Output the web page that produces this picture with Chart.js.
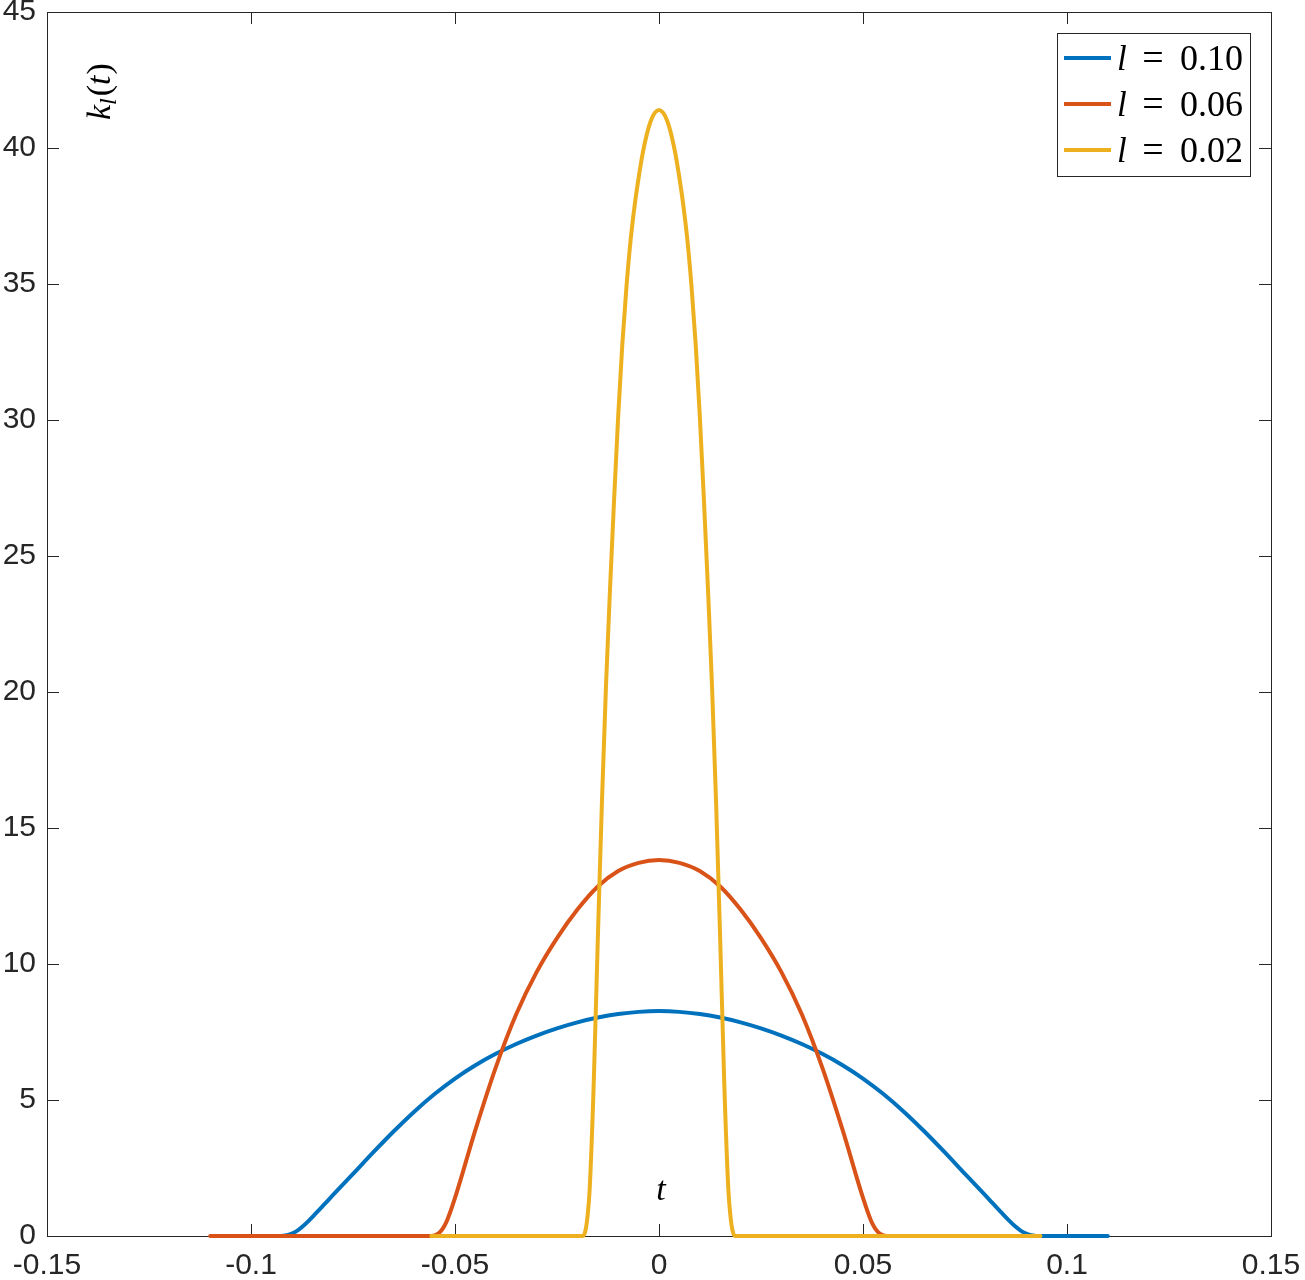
<!DOCTYPE html>
<html>
<head>
<meta charset="utf-8">
<script src="https://cdn.jsdelivr.net/npm/chart.js@4.4.1/dist/chart.umd.min.js"></script>
<style>
  body { margin: 0; background: #fff; }
  canvas { display: block; }
</style>
</head>
<body>
<canvas id="myChart" width="1305" height="1280"></canvas>
<script>
// values
const seriesNames = ['0.10', '0.06', '0.02'];
const seriesColors = ['#0072BD', '#D95319', '#EDB120'];

const tBlue = [-0.093, -0.092, -0.0905, -0.089, -0.0875, -0.086, -0.084, -0.082, -0.08, -0.075, -0.07, -0.065, -0.06, -0.055, -0.05, -0.045, -0.04, -0.035, -0.03, -0.025, -0.02, -0.015, -0.01, -0.005, 0,
  0.005, 0.01, 0.015, 0.02, 0.025, 0.03, 0.035, 0.04, 0.045, 0.05, 0.055, 0.06, 0.065, 0.07, 0.075, 0.08, 0.082, 0.084, 0.086, 0.0875, 0.089, 0.0905, 0.092, 0.093, 0.11];
const kBlue = [0, 0.01, 0.06, 0.16, 0.33, 0.54, 0.85, 1.17, 1.49, 2.28, 3.08, 3.85, 4.57, 5.22, 5.79, 6.28, 6.7, 7.06, 7.37, 7.635, 7.855, 8.03, 8.16, 8.24, 8.27,
  8.24, 8.16, 8.03, 7.855, 7.635, 7.37, 7.06, 6.7, 6.28, 5.79, 5.22, 4.57, 3.85, 3.08, 2.28, 1.49, 1.17, 0.85, 0.54, 0.33, 0.16, 0.06, 0.01, 0, 0];

const tOrange = [-0.11, -0.0558, -0.0548, -0.054, -0.053, -0.052, -0.05, -0.045, -0.04, -0.035, -0.03, -0.025, -0.02, -0.015, -0.01, -0.005, 0,
  0.005, 0.01, 0.015, 0.02, 0.025, 0.03, 0.035, 0.04, 0.045, 0.05, 0.052, 0.053, 0.054, 0.0548, 0.0558];
const kOrange = [0, 0, 0.03, 0.1, 0.27, 0.55, 1.4, 3.9, 6.2, 8.15, 9.7, 10.95, 12.0, 12.85, 13.42, 13.72, 13.82,
  13.72, 13.42, 12.85, 12.0, 10.95, 9.7, 8.15, 6.2, 3.9, 1.4, 0.55, 0.27, 0.1, 0.03, 0];

const tYellow = [-0.0558, -0.0186, -0.018, -0.0175, -0.017, -0.016, -0.015, -0.014, -0.013, -0.012, -0.011, -0.01, -0.009, -0.008, -0.007, -0.006, -0.005, -0.004, -0.003, -0.002, -0.001, 0,
  0.001, 0.002, 0.003, 0.004, 0.005, 0.006, 0.007, 0.008, 0.009, 0.01, 0.011, 0.012, 0.013, 0.014, 0.015, 0.016, 0.017, 0.0175, 0.018, 0.0186, 0.0935];
const kYellow = [0, 0, 0.22, 0.75, 1.7, 5.6, 10.9, 15.9, 20.2, 23.8, 27.1, 30.15, 32.75, 34.85, 36.55, 37.85, 38.9, 39.8, 40.5, 41.0, 41.3, 41.4,
  41.3, 41.0, 40.5, 39.8, 38.9, 37.85, 36.55, 34.85, 32.75, 30.15, 27.1, 23.8, 20.2, 15.9, 10.9, 5.6, 1.7, 0.75, 0.22, 0, 0];

const xTicks = [-0.15, -0.1, -0.05, 0, 0.05, 0.1, 0.15];
const xTickLabels = ['-0.15', '-0.1', '-0.05', '0', '0.05', '0.1', '0.15'];
const yTicks = [0, 5, 10, 15, 20, 25, 30, 35, 40, 45];
const yTickLabels = ['0', '5', '10', '15', '20', '25', '30', '35', '40', '45'];

const tickFont = { family: 'Liberation Sans, Arial, sans-serif', size: 30 };
const textColor = '#262626';
const mathFont = 'Liberation Serif, Times New Roman, serif';

function toPoints(ts, ks) {
  return ts.map((t, i) => ({ x: t, y: ks[i] }));
}

/* box, inner ticks, labels and legend */
const framePlugin = {
  id: 'frame',
  beforeDatasetsDraw(chart) {
    const { ctx, chartArea: a, scales } = chart;
    const tl = 12;
    ctx.save();
    ctx.strokeStyle = '#262626';
    ctx.lineWidth = 1;
    ctx.beginPath();
    xTicks.forEach((v) => {
      const px = Math.round(scales.x.getPixelForValue(v)) + 0.5;
      ctx.moveTo(px, a.bottom); ctx.lineTo(px, a.bottom - tl);
      ctx.moveTo(px, a.top); ctx.lineTo(px, a.top + tl);
    });
    yTicks.forEach((v) => {
      const py = Math.round(scales.y.getPixelForValue(v)) + 0.5;
      ctx.moveTo(a.left, py); ctx.lineTo(a.left + tl, py);
      ctx.moveTo(a.right, py); ctx.lineTo(a.right - tl, py);
    });
    ctx.stroke();
    ctx.strokeRect(Math.round(a.left) + 0.5, Math.round(a.top) + 0.5,
      Math.round(a.right - a.left), Math.round(a.bottom - a.top));
    ctx.restore();
  },
  afterDraw(chart) {
    const { ctx } = chart;
    ctx.save();
    ctx.fillStyle = '#000';
    ctx.textBaseline = 'alphabetic';

    // y label k_l(t), rotated
    ctx.save();
    ctx.translate(110, 120);
    ctx.rotate(-Math.PI / 2);
    ctx.textAlign = 'left';
    ctx.font = 'italic 34px ' + mathFont;
    ctx.fillText('k', 0, 0);
    let w = ctx.measureText('k').width;
    ctx.font = 'italic 24px ' + mathFont;
    ctx.fillText('l', w, 6);
    w += ctx.measureText('l').width + 2;
    ctx.font = '34px ' + mathFont;
    ctx.fillText('(', w, 0);
    w += ctx.measureText('(').width;
    ctx.font = 'italic 34px ' + mathFont;
    ctx.fillText('t', w, 0);
    w += ctx.measureText('t').width + 1;
    ctx.font = '34px ' + mathFont;
    ctx.fillText(')', w, 0);
    ctx.restore();

    // x label t
    ctx.font = 'italic 34px ' + mathFont;
    ctx.textAlign = 'center';
    ctx.fillText('t', 661, 1200);

    // legend
    const bx = 1057, by = 33, bw = 193, bh = 143;
    ctx.fillStyle = '#fff';
    ctx.fillRect(bx, by, bw, bh);
    ctx.strokeStyle = '#262626';
    ctx.lineWidth = 1;
    ctx.strokeRect(bx + 0.5, by + 0.5, bw, bh);
    seriesNames.forEach((name, i) => {
      const y = 58 + i * 46;
      ctx.strokeStyle = seriesColors[i];
      ctx.lineWidth = 4;
      ctx.beginPath();
      ctx.moveTo(1064, y);
      ctx.lineTo(1111, y);
      ctx.stroke();
      ctx.fillStyle = '#000';
      ctx.textAlign = 'left';
      ctx.font = 'italic 35px ' + mathFont;
      ctx.fillText('l', 1117, y + 12);
      ctx.font = '38px ' + mathFont;
      ctx.textAlign = 'center';
      ctx.fillText('=', 1153, y + 12);
      ctx.font = '36px ' + mathFont;
      ctx.textAlign = 'right';
      ctx.fillText(name, 1243, y + 12);
    });
    ctx.restore();
  }
};

const ctx = document.getElementById('myChart');

new Chart(ctx, {
  type: 'scatter',
  data: {
    datasets: [
      { label: 'l = ' + seriesNames[0], data: toPoints(tBlue, kBlue), borderColor: seriesColors[0], order: 3 },
      { label: 'l = ' + seriesNames[1], data: toPoints(tOrange, kOrange), borderColor: seriesColors[1], order: 2 },
      { label: 'l = ' + seriesNames[2], data: toPoints(tYellow, kYellow), borderColor: seriesColors[2], order: 1 }
    ].map((d) => Object.assign(d, {
      showLine: true,
      pointRadius: 0,
      borderWidth: 4,
      borderCapStyle: 'round',
      borderJoinStyle: 'round',
      cubicInterpolationMode: 'monotone',
      clip: false
    }))
  },
  options: {
    responsive: false,
    animation: false,
    layout: { padding: { top: 12, right: 34, left: 0, bottom: 0 } },
    plugins: {
      legend: { display: false },
      tooltip: { enabled: false }
    },
    scales: {
      x: {
        type: 'linear',
        min: -0.15,
        max: 0.15,
        grid: { display: false, drawTicks: false },
        border: { display: false },
        afterBuildTicks: (s) => { s.ticks = xTicks.map((v) => ({ value: v })); },
        afterFit: (s) => { s.height = 44; s.paddingLeft = 0; s.paddingRight = 0; },
        ticks: {
          autoSkip: false,
          maxRotation: 0,
          padding: 12,
          font: tickFont,
          color: textColor,
          callback: (v, i) => xTickLabels[i]
        }
      },
      y: {
        type: 'linear',
        min: 0,
        max: 45,
        grid: { display: false, drawTicks: false },
        border: { display: false },
        afterBuildTicks: (s) => { s.ticks = yTicks.map((v) => ({ value: v })); },
        afterFit: (s) => { s.width = 47; s.paddingTop = 0; s.paddingBottom = 0; },
        ticks: {
          autoSkip: false,
          padding: 11,
          font: tickFont,
          color: textColor,
          callback: (v, i) => yTickLabels[i]
        }
      }
    }
  },
  plugins: [framePlugin]
});
</script>
</body>
</html>
